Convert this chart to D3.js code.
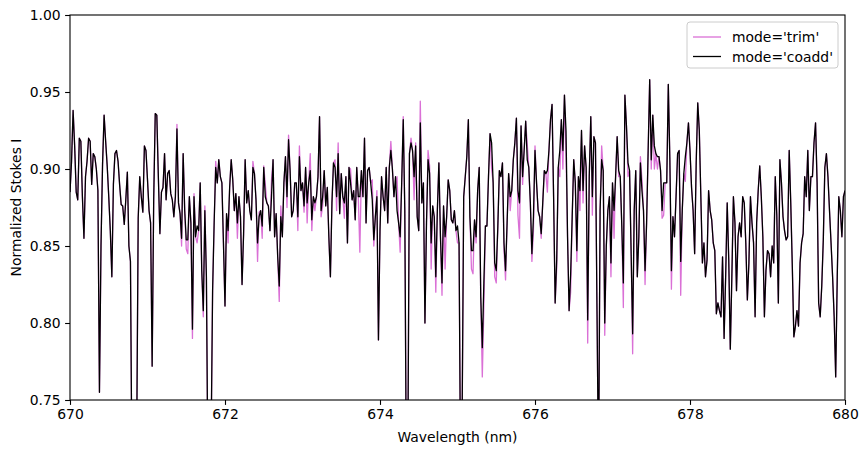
<!DOCTYPE html>
<html>
<head>
<meta charset="utf-8">
<script src="https://cdn.jsdelivr.net/npm/d3@7"></script>
<style>
  body { margin: 0; background: #fff; }
  svg { display: block; font-family: "DejaVu Sans", sans-serif; }
</style>
</head>
<body>
<div id="chart"></div>
<script>
// wavelength grid (nm)
const waveStart = 670
const waveStep = 0.02

// coadd spectrum, one value per grid step
const coadd = [
  0.885, 0.905, 0.938, 0.915, 0.885, 0.880, 0.920, 0.918, 0.882, 0.855,
  0.895, 0.905, 0.920, 0.918, 0.890, 0.910, 0.908, 0.900, 0.886, 0.755,
  0.850, 0.903, 0.935, 0.918, 0.902, 0.882, 0.860, 0.830, 0.890, 0.910,
  0.912, 0.905, 0.890, 0.877, 0.876, 0.864, 0.880, 0.898, 0.850, 0.840,
  0.700, 0.700, 0.700, 0.720, 0.868, 0.895, 0.882, 0.872, 0.915, 0.912,
  0.893, 0.873, 0.865, 0.772, 0.880, 0.936, 0.935, 0.895, 0.858, 0.885,
  0.888, 0.910, 0.880, 0.897, 0.899, 0.884, 0.880, 0.869, 0.882, 0.926,
  0.878, 0.871, 0.855, 0.910, 0.873, 0.854, 0.854, 0.882, 0.865, 0.796,
  0.882, 0.856, 0.863, 0.860, 0.891, 0.834, 0.808, 0.873, 0.830, 0.700,
  0.700, 0.720, 0.821, 0.865, 0.901, 0.891, 0.906, 0.895, 0.891, 0.852,
  0.811, 0.871, 0.860, 0.888, 0.906, 0.893, 0.873, 0.884, 0.865, 0.882,
  0.869, 0.825, 0.858, 0.906, 0.878, 0.886, 0.873, 0.867, 0.901, 0.897,
  0.880, 0.852, 0.869, 0.873, 0.863, 0.901, 0.882, 0.878, 0.876, 0.860,
  0.882, 0.906, 0.856, 0.871, 0.843, 0.824, 0.869, 0.856, 0.891, 0.908,
  0.882, 0.919, 0.899, 0.869, 0.873, 0.891, 0.891, 0.869, 0.908, 0.886,
  0.891, 0.876, 0.901, 0.878, 0.891, 0.899, 0.867, 0.882, 0.878, 0.882,
  0.895, 0.934, 0.873, 0.882, 0.899, 0.876, 0.888, 0.856, 0.830, 0.878,
  0.904, 0.901, 0.882, 0.910, 0.871, 0.897, 0.882, 0.878, 0.895, 0.852,
  0.901, 0.891, 0.880, 0.886, 0.867, 0.901, 0.882, 0.882, 0.899, 0.882,
  0.920, 0.865, 0.899, 0.901, 0.891, 0.880, 0.854, 0.869, 0.882, 0.789,
  0.860, 0.895, 0.882, 0.873, 0.901, 0.865, 0.901, 0.912, 0.900, 0.882,
  0.895, 0.873, 0.865, 0.856, 0.891, 0.932, 0.873, 0.700, 0.720, 0.910,
  0.917, 0.912, 0.895, 0.915, 0.869, 0.860, 0.930, 0.878, 0.891, 0.800,
  0.865, 0.906, 0.897, 0.852, 0.876, 0.869, 0.830, 0.873, 0.904, 0.856,
  0.826, 0.876, 0.856, 0.869, 0.893, 0.886, 0.867, 0.865, 0.873, 0.860,
  0.863, 0.852, 0.700, 0.740, 0.882, 0.895, 0.908, 0.932, 0.869, 0.847,
  0.847, 0.867, 0.856, 0.886, 0.901, 0.817, 0.784, 0.826, 0.863, 0.863,
  0.895, 0.923, 0.917, 0.891, 0.839, 0.834, 0.862, 0.899, 0.895, 0.904,
  0.852, 0.834, 0.865, 0.897, 0.882, 0.886, 0.906, 0.917, 0.933, 0.886,
  0.878, 0.928, 0.895, 0.912, 0.931, 0.906, 0.901, 0.878, 0.845, 0.869,
  0.912, 0.891, 0.873, 0.869, 0.858, 0.878, 0.899, 0.897, 0.899, 0.912,
  0.932, 0.942, 0.882, 0.813, 0.841, 0.901, 0.912, 0.932, 0.912, 0.948,
  0.925, 0.856, 0.808, 0.832, 0.869, 0.906, 0.891, 0.847, 0.895, 0.886,
  0.925, 0.886, 0.915, 0.901, 0.802, 0.895, 0.934, 0.882, 0.921, 0.917,
  0.808, 0.700, 0.873, 0.906, 0.899, 0.800, 0.850, 0.873, 0.882, 0.839,
  0.891, 0.873, 0.895, 0.921, 0.899, 0.895, 0.863, 0.826, 0.948, 0.928,
  0.904, 0.899, 0.847, 0.793, 0.873, 0.899, 0.830, 0.856, 0.904, 0.886,
  0.873, 0.834, 0.865, 0.912, 0.958, 0.906, 0.935, 0.915, 0.910, 0.908,
  0.908, 0.899, 0.873, 0.891, 0.891, 0.891, 0.955, 0.906, 0.834, 0.869,
  0.856, 0.882, 0.910, 0.912, 0.840, 0.873, 0.897, 0.908, 0.917, 0.930,
  0.912, 0.888, 0.873, 0.845, 0.904, 0.943, 0.925, 0.882, 0.839, 0.852,
  0.830, 0.841, 0.886, 0.873, 0.867, 0.852, 0.847, 0.806, 0.813, 0.808,
  0.804, 0.843, 0.790, 0.830, 0.878, 0.841, 0.783, 0.830, 0.882, 0.865,
  0.821, 0.856, 0.865, 0.856, 0.882, 0.878, 0.852, 0.815, 0.839, 0.882,
  0.865, 0.852, 0.804, 0.865, 0.886, 0.902, 0.882, 0.856, 0.804, 0.834,
  0.847, 0.845, 0.830, 0.850, 0.839, 0.895, 0.870, 0.813, 0.906, 0.891,
  0.869, 0.860, 0.854, 0.856, 0.912, 0.878, 0.837, 0.791, 0.798, 0.808,
  0.798, 0.839, 0.852, 0.858, 0.895, 0.882, 0.912, 0.873, 0.895, 0.895,
  0.917, 0.930, 0.891, 0.813, 0.804, 0.824, 0.854, 0.901, 0.910, 0.895,
  0.873, 0.852, 0.830, 0.804, 0.765, 0.830, 0.882, 0.873, 0.856, 0.882,
  0.886
]

// points where the trim spectrum differs from coadd: [grid index, value]
const trimDiffs = [
  [69, 0.929], [72, 0.850], [75, 0.848], [76, 0.845], [79, 0.790], [80, 0.884],
  [82, 0.852], [86, 0.804], [87, 0.876], [94, 0.905], [102, 0.852], [108, 0.855],
  [118, 0.905], [121, 0.840], [122, 0.872], [124, 0.855], [125, 0.902], [126, 0.890],
  [130, 0.893], [135, 0.814], [136, 0.876], [140, 0.875], [141, 0.922], [147, 0.860],
  [148, 0.915], [151, 0.872], [153, 0.865], [155, 0.910], [156, 0.860], [158, 0.873],
  [162, 0.869], [163, 0.876], [171, 0.906], [172, 0.873], [173, 0.917], [177, 0.868],
  [181, 0.900], [187, 0.846], [195, 0.893], [196, 0.850], [198, 0.886], [207, 0.918],
  [210, 0.890], [211, 0.895], [213, 0.846], [215, 0.934], [220, 0.920], [222, 0.880],
  [223, 0.917], [226, 0.944], [231, 0.912], [232, 0.902], [233, 0.835], [236, 0.820],
  [240, 0.818], [242, 0.835], [250, 0.852], [259, 0.835], [260, 0.832], [262, 0.852],
  [266, 0.765], [267, 0.810], [272, 0.900], [274, 0.830], [275, 0.826], [280, 0.847],
  [281, 0.828], [284, 0.873], [289, 0.870], [290, 0.855], [292, 0.890], [295, 0.916],
  [298, 0.840], [299, 0.860], [300, 0.915], [304, 0.855], [308, 0.885], [314, 0.835],
  [316, 0.895], [318, 0.900], [320, 0.910], [323, 0.820], [327, 0.840], [329, 0.873],
  [331, 0.878], [334, 0.787], [337, 0.870], [343, 0.915], [345, 0.792], [349, 0.830],
  [351, 0.855], [354, 0.895], [357, 0.810], [360, 0.895], [363, 0.780], [368, 0.908],
  [369, 0.893], [371, 0.825], [375, 0.900], [377, 0.900], [379, 0.900], [382, 0.868],
  [383, 0.870], [388, 0.822], [394, 0.818], [397, 0.892]
]

const xTicks = [670, 672, 674, 676, 678, 680]
const yTicks = [0.75, 0.80, 0.85, 0.90, 0.95, 1.00]

const seriesNames = ["mode='trim'", "mode='coadd'"]
const seriesColors = ['#da70d6', '#000000']

// build the two series
const trim = coadd.slice()
trimDiffs.forEach(([i, v]) => { trim[i] = v })
const toPoints = (vals) => vals.map((v, i) => [waveStart + i * waveStep, v])
const series = [toPoints(trim), toPoints(coadd)]

const width = 868
const height = 453
const margin = { top: 15, right: 23, bottom: 53, left: 70 }

const svg = d3.select('#chart')
  .append('svg')
  .attr('width', width)
  .attr('height', height)

const x = d3.scaleLinear().domain([670, 680]).range([margin.left, width - margin.right])
const y = d3.scaleLinear().domain([0.75, 1.0]).range([height - margin.bottom, margin.top])

svg.append('clipPath')
  .attr('id', 'plot-clip')
  .append('rect')
  .attr('x', margin.left)
  .attr('y', margin.top)
  .attr('width', width - margin.left - margin.right)
  .attr('height', height - margin.top - margin.bottom)

const line = d3.line().x((d) => x(d[0])).y((d) => y(d[1]))

svg.append('g')
  .attr('clip-path', 'url(#plot-clip)')
  .selectAll('path')
  .data(series)
  .join('path')
  .attr('d', line)
  .attr('fill', 'none')
  .attr('stroke', (d, i) => seriesColors[i])
  .attr('stroke-width', 1.3)
  .attr('stroke-linejoin', 'round')

// axes
const xAxis = svg.append('g')
  .attr('transform', `translate(0,${height - margin.bottom})`)
  .call(d3.axisBottom(x).tickValues(xTicks).tickFormat(d3.format('d')).tickSize(4.9).tickPadding(4.5))
const yAxis = svg.append('g')
  .attr('transform', `translate(${margin.left},0)`)
  .call(d3.axisLeft(y).tickValues(yTicks).tickFormat(d3.format('.2f')).tickSize(4.9).tickPadding(4.5))

;[xAxis, yAxis].forEach((g) => {
  g.select('.domain').remove()
  g.selectAll('line').attr('stroke', '#000').attr('stroke-width', 1.1)
  g.selectAll('text').attr('font-size', 13.9).attr('fill', '#000').attr('font-family', '"DejaVu Sans", sans-serif')
})

// frame
svg.append('rect')
  .attr('x', margin.left)
  .attr('y', margin.top)
  .attr('width', width - margin.left - margin.right)
  .attr('height', height - margin.top - margin.bottom)
  .attr('fill', 'none')
  .attr('stroke', '#000')
  .attr('stroke-width', 1.1)

svg.append('text')
  .attr('x', (margin.left + width - margin.right) / 2)
  .attr('y', 442)
  .attr('text-anchor', 'middle')
  .attr('font-size', 13.9)
  .text('Wavelength (nm)')

svg.append('text')
  .attr('transform', `translate(21,${(margin.top + height - margin.bottom) / 2}) rotate(-90)`)
  .attr('text-anchor', 'middle')
  .attr('font-size', 13.9)
  .text('Normalized Stokes I')

// legend
const legend = svg.append('g').attr('transform', 'translate(687,22)')
legend.append('rect')
  .attr('width', 151)
  .attr('height', 46)
  .attr('rx', 3)
  .attr('fill', '#fff')
  .attr('fill-opacity', 0.8)
  .attr('stroke', '#ccc')
  .attr('stroke-width', 1)

seriesNames.forEach((name, i) => {
  const row = legend.append('g').attr('transform', `translate(0,${15 + i * 19.5})`)
  row.append('line')
    .attr('x1', 6).attr('x2', 34)
    .attr('stroke', seriesColors[i])
    .attr('stroke-width', 1.3)
  row.append('text')
    .attr('x', 45)
    .attr('y', 5)
    .attr('font-size', 13.9)
    .text(name)
})
</script>
</body>
</html>
